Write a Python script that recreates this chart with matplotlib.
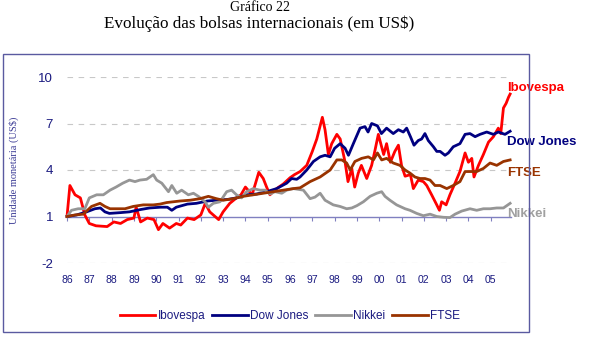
import matplotlib
matplotlib.use("Agg")
import matplotlib.pyplot as plt
from matplotlib.patches import Rectangle

# --- data (index, start = 1) ---
ibov_t = [1986.0, 1986.13, 1986.36, 1986.6, 1986.8, 1987.0, 1987.3, 1987.8, 1988.1, 1988.4,
          1988.7, 1989.0, 1989.1, 1989.3, 1989.6, 1989.9, 1990.1, 1990.3, 1990.6, 1990.9,
          1991.1, 1991.4, 1991.7, 1992.0, 1992.2, 1992.4, 1992.8, 1993.0, 1993.3, 1993.6,
          1993.8, 1994.0, 1994.3, 1994.6, 1994.8, 1994.95, 1995.1, 1995.4, 1995.7, 1996.0,
          1996.2, 1996.45, 1996.75, 1997.0, 1997.2, 1997.45, 1997.57, 1997.72, 1997.87, 1998.1,
          1998.25, 1998.47, 1998.6, 1998.77, 1998.9, 1999.06, 1999.2, 1999.44, 1999.66, 1999.8,
          1999.96, 2000.07, 2000.2, 2000.33, 2000.5, 2000.7, 2000.86, 2001.0, 2001.16, 2001.4,
          2001.53, 2001.75, 2001.98, 2002.13, 2002.35, 2002.58, 2002.7, 2002.8, 2003.0, 2003.17,
          2003.4, 2003.62, 2003.85, 2004.0, 2004.15, 2004.25, 2004.45, 2004.67, 2004.9, 2005.12,
          2005.34, 2005.45, 2005.57, 2005.69, 2005.8, 2005.87]
ibov_v = [1.0, 3.0, 2.4, 2.2, 1.1, 0.55, 0.4, 0.35, 0.65, 0.55,
          0.8, 0.9, 1.6, 0.65, 0.9, 0.8, 0.15, 0.55, 0.25, 0.55,
          0.45, 0.9, 0.8, 1.1, 1.85, 1.3, 0.8, 1.3, 1.85, 2.2,
          2.4, 2.9, 2.4, 3.85, 3.45, 2.9, 2.4, 2.8, 3.1, 3.5,
          3.7, 3.9, 4.3, 5.2, 6.0, 7.4, 6.6, 5.0, 5.7, 6.3,
          6.0, 4.5, 3.25, 4.1, 2.9, 3.8, 4.3, 3.45, 4.3, 5.2,
          6.3, 5.7, 5.0, 5.7, 4.5, 5.2, 5.6, 4.3, 3.6, 3.7,
          2.8, 3.35, 3.25, 3.0, 2.4, 1.75, 1.4, 1.95, 1.75, 2.4,
          3.15, 3.9, 5.1, 4.5, 4.75, 3.55, 4.3, 5.0, 5.8, 6.15,
          6.7, 6.35, 8.0, 8.3, 8.7, 8.9]

dow_t = [1986.0, 1986.43, 1986.88, 1987.25, 1987.5, 1987.7, 1987.9, 1988.4, 1988.8, 1989.3,
         1989.7, 1990.2, 1990.5, 1990.7, 1990.9, 1991.4, 1991.8, 1992.3, 1992.7, 1993.2,
         1993.6, 1994.05, 1994.5, 1994.95, 1995.4, 1995.85, 1996.07, 1996.3, 1996.45, 1996.75,
         1997.05, 1997.35, 1997.57, 1997.8, 1998.0, 1998.25, 1998.47, 1998.62, 1998.84, 1999.14,
         1999.36, 1999.5, 1999.66, 1999.92, 2000.1, 2000.33, 2000.63, 2000.86, 2001.08, 2001.23,
         2001.4, 2001.56, 2001.75, 2001.9, 2002.05, 2002.2, 2002.43, 2002.58, 2002.73, 2002.95,
         2003.1, 2003.32, 2003.62, 2003.85, 2004.07, 2004.3, 2004.52, 2004.82, 2005.12, 2005.34,
         2005.64, 2005.87]
dow_v = [1.0, 1.1, 1.3, 1.5, 1.55, 1.3, 1.2, 1.25, 1.3, 1.45,
         1.55, 1.6, 1.6, 1.4, 1.6, 1.8, 1.85, 2.0, 2.05, 2.1,
         2.2, 2.4, 2.45, 2.6, 2.8, 3.15, 3.45, 3.4, 3.55, 4.0,
         4.55, 4.85, 4.95, 4.85, 5.4, 5.7, 5.4, 4.95, 5.7, 6.7,
         6.8, 6.45, 7.0, 6.85, 6.35, 6.7, 6.35, 6.6, 6.45, 6.7,
         6.15, 5.6, 5.9, 6.0, 6.35, 5.9, 5.5, 5.2, 5.2, 4.95,
         5.1, 5.5, 5.7, 6.3, 6.35, 6.15, 6.3, 6.45, 6.3, 6.45,
         6.3, 6.5]

nikkei_t = [1986.0, 1986.2, 1986.5, 1986.8, 1987.0, 1987.33, 1987.63, 1987.93, 1988.2, 1988.5,
            1988.8, 1989.05, 1989.27, 1989.57, 1989.87, 1990.02, 1990.25, 1990.55, 1990.7, 1990.92,
            1991.14, 1991.44, 1991.67, 1991.89, 1992.19, 1992.34, 1992.56, 1992.86, 1993.16, 1993.38,
            1993.6, 1993.83, 1994.05, 1994.35, 1994.65, 1994.88, 1995.1, 1995.33, 1995.63, 1995.85,
            1996.15, 1996.6, 1996.9, 1997.12, 1997.35, 1997.57, 1997.94, 1998.24, 1998.54, 1998.77,
            1999.0, 1999.29, 1999.59, 1999.89, 2000.11, 2000.26, 2000.48, 2000.78, 2001.16, 2001.38,
            2001.68, 2001.98, 2002.28, 2002.58, 2002.88, 2003.17, 2003.4, 2003.7, 2004.07, 2004.37,
            2004.67, 2004.97, 2005.27, 2005.57, 2005.87]
nikkei_v = [1.0, 1.4, 1.5, 1.5, 2.2, 2.4, 2.4, 2.7, 2.9, 3.15,
            3.35, 3.25, 3.35, 3.4, 3.7, 3.35, 3.15, 2.6, 3.0, 2.5,
            2.7, 2.4, 2.5, 2.3, 1.95, 1.6, 1.85, 1.95, 2.6, 2.7,
            2.4, 2.2, 2.6, 2.8, 2.7, 2.7, 2.45, 2.6, 2.5, 2.7,
            2.8, 2.7, 2.15, 2.25, 2.5, 2.05, 1.75, 1.65, 1.5, 1.55,
            1.7, 1.95, 2.3, 2.5, 2.6, 2.3, 2.05, 1.75, 1.5, 1.4,
            1.2, 1.05, 1.15, 1.0, 0.95, 0.93, 1.15, 1.35, 1.5, 1.4,
            1.5, 1.5, 1.55, 1.55, 1.85]

ftse_t = [1986.0, 1986.36, 1986.73, 1987.1, 1987.48, 1987.7, 1987.93, 1988.23, 1988.6, 1988.97,
          1989.42, 1989.87, 1990.17, 1990.47, 1990.77, 1991.07, 1991.52, 1991.96, 1992.34, 1992.7,
          1993.0, 1993.46, 1993.9, 1994.35, 1994.8, 1995.25, 1995.7, 1996.15, 1996.45, 1996.9,
          1997.35, 1997.8, 1998.1, 1998.32, 1998.54, 1998.7, 1998.91, 1999.21, 1999.51, 1999.74,
          1999.92, 2000.11, 2000.33, 2000.63, 2000.93, 2001.16, 2001.38, 2001.6, 2001.83, 2002.05,
          2002.28, 2002.5, 2002.73, 2003.03, 2003.32, 2003.62, 2003.85, 2004.15, 2004.37, 2004.67,
          2004.97, 2005.27, 2005.57, 2005.87]
ftse_v = [1.0, 1.1, 1.15, 1.65, 1.85, 1.65, 1.5, 1.5, 1.5, 1.65,
          1.75, 1.75, 1.8, 1.9, 1.95, 2.0, 2.05, 2.15, 2.3, 2.15,
          2.05, 2.15, 2.3, 2.4, 2.5, 2.6, 2.7, 2.8, 2.85, 3.25,
          3.55, 4.0, 4.65, 4.65, 4.45, 4.0, 4.55, 4.75, 4.85, 4.65,
          5.1, 4.65, 4.75, 4.45, 4.3, 4.0, 3.8, 3.55, 3.45, 3.45,
          3.35, 3.0, 3.0, 2.8, 3.0, 3.25, 3.9, 3.9, 3.9, 4.1,
          4.45, 4.3, 4.55, 4.65]

year_labels = ["86", "87", "88", "89", "90", "91", "92", "93", "94", "95",
               "96", "97", "98", "99", "00", "01", "02", "03", "04", "05"]
y_ticks = [-2, 1, 4, 7, 10]

names = ["Ibovespa", "Dow Jones", "Nikkei", "FTSE"]
colors = ["#ff0000", "#000080", "#969696", "#993300"]
series = [(ibov_t, ibov_v), (dow_t, dow_v), (nikkei_t, nikkei_v), (ftse_t, ftse_v)]

navy = "#1a1a80"

fig = plt.figure(figsize=(5.9, 3.41), dpi=100)
fig.patch.set_facecolor("white")

# outer chart frame
fig.patches.append(Rectangle((3 / 590, 1 - 332 / 341), 526 / 590, 278 / 341,
                             transform=fig.transFigure, fill=False,
                             edgecolor="#5a5aa0", linewidth=1.0))

fig.text(0.44, 1 - 1 / 341, "Gráfico 22", family="Liberation Serif",
         fontsize=10, ha="center", va="top")
fig.text(0.44, 1 - 24 / 341, "Evolução das bolsas internacionais (em US$)",
         family="Liberation Serif", fontsize=12.3, ha="center", va="center")

ax = fig.add_axes([67 / 590, 1 - 263 / 341, (510.8 - 67) / 590, 186 / 341])
ax.set_xlim(1986, 2005.9)
ax.set_ylim(-2, 10)

for (t, v), c, n in zip(series, colors, names):
    ax.plot(t, v, color=c, linewidth=2.0, label=n, zorder=3, clip_on=False)

for yv in [10, 7, 4, -2]:
    ax.axhline(yv, color="#c8c8c8", linewidth=0.8, linestyle=(0, (5, 5)), zorder=1)

for s in ["top", "right", "left"]:
    ax.spines[s].set_visible(False)
ax.spines["bottom"].set_position(("data", 1))
ax.spines["bottom"].set_color("#8080c0")
ax.spines["bottom"].set_linewidth(1.0)

ax.set_xticks(range(1986, 2006))
ax.tick_params(axis="x", direction="out", length=3, color="#8080c0",
               labelbottom=False)
for i, lab in enumerate(year_labels):
    ax.text(1986 + i, -0.09, lab, transform=ax.get_xaxis_transform(),
            ha="center", va="center", fontsize=7.5, color=navy,
            family="Liberation Sans")

ax.set_yticks(y_ticks)
ax.set_yticklabels([str(v) for v in y_ticks], fontsize=9.5, color=navy,
                   family="Liberation Sans")
ax.tick_params(axis="y", length=0, pad=10)

ax.set_ylabel("Unidade monetária (US$)", family="Liberation Serif",
              fontsize=7.5, color="#3c3c96", labelpad=14)

# series names at the line ends
end_labels = [("Ibovespa", 9.3, colors[0]), ("Dow Jones", 5.8, colors[1]),
              ("FTSE", 3.8, colors[3]), ("Nikkei", 1.15, "#a0a0a0")]
for text, yv, c in end_labels:
    ax.text(2005.72, yv, text, color=c, fontsize=9.5, fontweight="bold",
            family="Liberation Sans", ha="left", va="center", clip_on=False)

leg = fig.legend(loc="center", bbox_to_anchor=(290 / 590, 1 - 316 / 341),
                 ncol=4, frameon=False, handlelength=3.0,
                 handletextpad=0.2, columnspacing=0.6,
                 prop={"family": "Liberation Sans", "size": 8.5})
for txt in leg.get_texts():
    txt.set_color(navy)

fig.savefig("out.png", dpi=100, facecolor="white")
